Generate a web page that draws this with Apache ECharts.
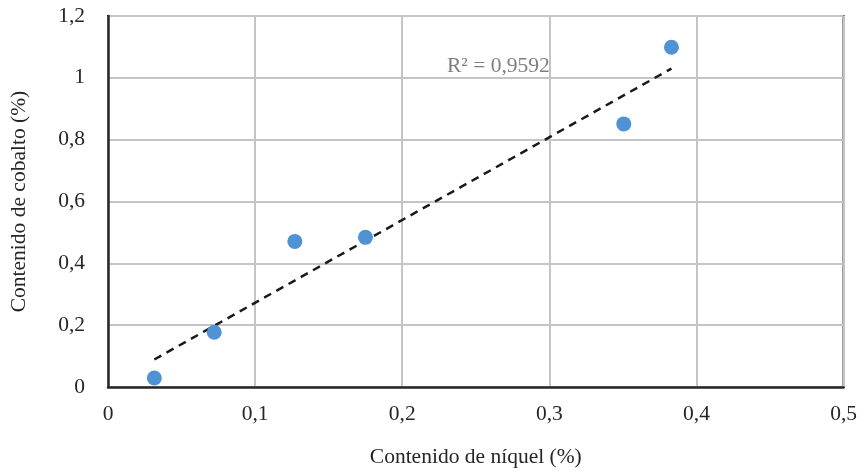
<!DOCTYPE html>
<html>
<head>
<meta charset="utf-8">
<script src="https://cdn.jsdelivr.net/npm/echarts@6/dist/echarts.min.js"></script>
<style>
  html, body { margin: 0; padding: 0; background: #fff; }
  #scatterChart { width: 860px; height: 476px; }
</style>
</head>
<body>
<div id="scatterChart"></div>
<script>
// datos
var niquel = [0.0315, 0.0722, 0.127, 0.175, 0.3506, 0.383]
var cobalto = [0.029, 0.177, 0.471, 0.484, 0.851, 1.099]
// línea de tendencia (extremos)
var trendX = [0.0315, 0.383]
var trendY = [0.089, 1.03]
var r2Label = 'R² = 0,9592'

var fontFamily = '"Liberation Serif", "Times New Roman", serif'
var fontSize = 21.5

var puntos = niquel.map(function (x, i) { return [x, cobalto[i]] })
var tendencia = trendX.map(function (x, i) { return [x, trendY[i]] })

var chart = echarts.init(document.getElementById('scatterChart'))
chart.setOption({
  backgroundColor: '#fff',
  animation: false,
  grid: {
    left: 106,
    right: 15,
    top: 16,
    bottom: 89,
    show: true,
    borderColor: '#262626',
    borderWidth: 2
  },
  xAxis: {
    type: 'value',
    min: 0,
    max: 0.5,
    interval: 0.1,
    name: 'Contenido de níquel (%)',
    nameLocation: 'middle',
    nameGap: 59,
    nameTextStyle: { color: '#262626', fontSize: fontSize, fontFamily: fontFamily },
    axisLine: { show: true, lineStyle: { color: '#262626', width: 2.5 } },
    axisTick: { show: false },
    axisLabel: {
      color: '#262626',
      fontSize: fontSize,
      fontFamily: fontFamily,
      margin: 16,
      formatter: function (v) { return String(+v.toFixed(1)).replace('.', ',') }
    },
    splitLine: { lineStyle: { color: '#c4c4c4', width: 2 } }
  },
  yAxis: {
    type: 'value',
    min: 0,
    max: 1.2,
    interval: 0.2,
    name: 'Contenido de cobalto (%)',
    nameLocation: 'middle',
    nameGap: 78,
    nameTextStyle: { color: '#262626', fontSize: fontSize, fontFamily: fontFamily },
    axisLine: { show: true, lineStyle: { color: '#262626', width: 2.5 } },
    axisTick: { show: false },
    axisLabel: {
      color: '#262626',
      fontSize: fontSize,
      fontFamily: fontFamily,
      margin: 23,
      formatter: function (v) { return String(+v.toFixed(1)).replace('.', ',') }
    },
    splitLine: { lineStyle: { color: '#c4c4c4', width: 2 } }
  },
  graphic: [
    {
      type: 'text',
      left: 447,
      top: 55,
      style: {
        text: r2Label,
        fill: '#7f7f7f',
        fontSize: fontSize,
        fontFamily: fontFamily
      }
    }
  ],
  series: [
    {
      name: 'tendencia',
      type: 'line',
      data: tendencia,
      symbol: 'none',
      z: 3,
      lineStyle: { color: '#1a1a1a', width: 2.5, type: [8, 6] }
    },
    {
      name: 'muestras',
      type: 'scatter',
      data: puntos,
      symbolSize: 15,
      z: 4,
      itemStyle: { color: '#4f93d4', opacity: 1 }
    }
  ]
})
</script>
</body>
</html>
